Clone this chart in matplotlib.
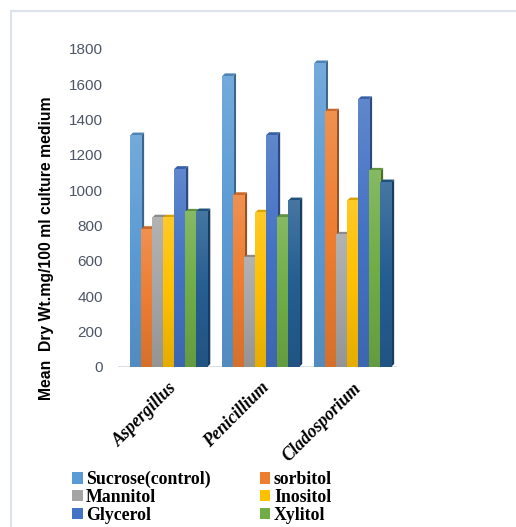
import numpy as np
import matplotlib.pyplot as plt
from matplotlib.patches import Polygon, Rectangle
from matplotlib.colors import LinearSegmentedColormap, to_rgb

fungi = ['Aspergillus', 'Penicillium', 'Cladosporium']
series = ['Sucrose(control)', 'sorbitol', 'Mannitol', 'Inositol', 'Glycerol', 'Xylitol', 'Series7']

sucrose = [1310, 1645, 1718]
sorbitol = [780, 972, 1445]
mannitol = [845, 618, 748]
inositol = [845, 873, 942]
glycerol = [1120, 1312, 1515]
xylitol = [878, 848, 1110]
series7 = [880, 942, 1044]

values = [sucrose, sorbitol, mannitol, inositol, glycerol, xylitol, series7]
colors = ['#5B9BD5', '#ED7D31', '#A5A5A5', '#FFC000', '#4472C4', '#70AD47', '#255E91']


def mix(c, other, t):
    c = np.array(to_rgb(c))
    return tuple(c * (1 - t) + np.array(other) * t)


fig = plt.figure(figsize=(5.16, 5.27), dpi=100)
ax = fig.add_axes([118 / 516, 1 - 367 / 527, 279 / 516, 318 / 527])

w = 0.12      # bar width
dx = 0.034    # depth offset in x
dy = 17       # depth offset in y
x = np.arange(len(fungi))

z = 2
for j in range(len(fungi)):
    for i, (vals, c) in enumerate(zip(values, colors)):
        x0 = x[j] + (i - 3.5) * w
        h = vals[j]
        # side and top faces for the 3D look
        side = Polygon([(x0 + w, 0), (x0 + w + dx, dy), (x0 + w + dx, h + dy), (x0 + w, h)],
                       closed=True, facecolor=mix(c, (0, 0, 0), 0.35), edgecolor='none', zorder=z)
        top = Polygon([(x0, h), (x0 + w, h), (x0 + w + dx, h + dy), (x0 + dx, h + dy)],
                      closed=True, facecolor=mix(c, (0, 0, 0), 0.15), edgecolor='none', zorder=z)
        ax.add_patch(side)
        ax.add_patch(top)
        # front face with a vertical gradient
        cmap = LinearSegmentedColormap.from_list('g', [mix(c, (0, 0, 0), 0.1), c, mix(c, (1, 1, 1), 0.15)])
        grad = np.linspace(1, 0, 64).reshape(-1, 1)
        ax.imshow(grad, cmap=cmap, extent=(x0, x0 + w, 0, h), aspect='auto',
                  interpolation='bicubic', zorder=z + 0.5)
        z += 1

ax.axhline(0, color='#d9dde6', lw=2.2, zorder=1)
ax.set_xlim(-0.55, 2.485)
ax.set_ylim(0, 1800)
ax.set_yticks(np.arange(0, 1801, 200))
ax.tick_params(axis='y', length=0, pad=11, labelsize=11, labelcolor='#4d5566')
ax.tick_params(axis='x', length=0, pad=9)
for lab in ax.get_yticklabels():
    lab.set_fontfamily('Liberation Sans')
ax.set_xticks(x)
ax.set_xticklabels(fungi, rotation=45, ha='right', va='top', rotation_mode='anchor',
                   fontfamily='Liberation Serif', fontweight='bold', fontstyle='italic', fontsize=12.8)
for s in ax.spines.values():
    s.set_visible(False)

fig.text(47 / 516, 1 - 248 / 527, 'Mean  Dry Wt.mg/100 ml culture medium', rotation=90,
         ha='center', va='center', fontfamily='Liberation Sans', fontweight='bold', fontsize=11.3)

# legend, filled row by row in two columns
handles = [Rectangle((0, 0), 1, 1, facecolor=c, edgecolor='none') for c in colors[:6]]
order = [0, 2, 4, 1, 3, 5]
leg = fig.legend([handles[k] for k in order], [series[k] for k in order], ncol=2,
                 loc='upper left', bbox_to_anchor=(72 / 516, 1 - 471 / 527), frameon=False,
                 handlelength=0.6, handleheight=0.6, handletextpad=0.2, labelspacing=0.04,
                 columnspacing=2.75, borderaxespad=0, borderpad=0,
                 prop={'family': 'Liberation Serif', 'weight': 'bold', 'size': 12.8})

# outer chart border
fig.add_artist(Rectangle((11 / 516, -0.1), 1.2, 1.1 - 11 / 527, transform=fig.transFigure,
                         facecolor='none', edgecolor='#dde2ec', lw=1.5, clip_on=False))

fig.savefig('out.png', dpi=100)
